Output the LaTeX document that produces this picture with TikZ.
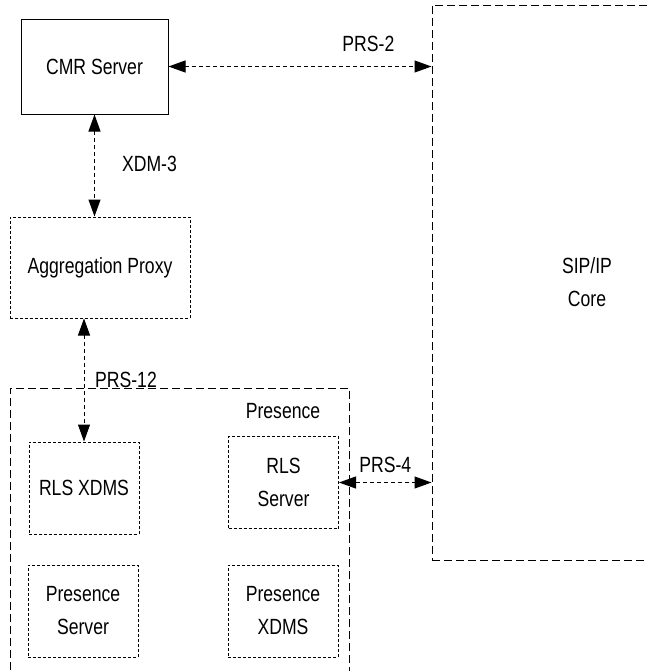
\documentclass[tikz,border=0pt]{standalone}
\usepackage{fontspec}
\setmainfont{Liberation Sans}[FakeStretch=0.8]
\usetikzlibrary{arrows.meta,positioning}

\begin{document}
\begin{tikzpicture}[x=0.5pt,y=-0.5pt,>={Triangle[length=8.5pt,width=6pt]},
                    font=\fontsize{11}{16.5}\selectfont]
  \tikzstyle{box}=[draw,rectangle,line width=0.5pt,align=center,inner sep=0pt]
  \tikzstyle{solidbox}=[box,minimum width=73.5pt,minimum height=47.5pt]
  \tikzstyle{dotbox}=[box,dash pattern=on 1.5pt off 1pt,minimum width=55pt,minimum height=46pt]
  \tikzstyle{group}=[box,dash pattern=on 4pt off 2pt]
  \tikzstyle{link}=[<->,line width=0.5pt,dash pattern=on 2pt off 1.5pt]

  \useasboundingbox (0,0) rectangle (648,671);

  \node[solidbox] (cmr)                  at (94.5,66.5)  {CMR Server};
  \node[dotbox,minimum width=90pt,minimum height=50.5pt] (agg) at (100,267.5) {Aggregation Proxy};
  \node[group,minimum width=155pt,minimum height=277.5pt] (sip) at (587,282.5) {SIP/IP\\Core};

  \node[group,minimum width=169.5pt,minimum height=166pt] (pres) at (179.5,554) {};
  \node (preslabel) at (283,411) {Presence};

  \node[dotbox] (rlsx)                   at (84,488)     {RLS XDMS};
  \node[dotbox] (rlss)                   at (283.5,482.5) {RLS\\Server};
  \node[dotbox] (press)                  at (83,611)     {Presence\\Server};
  \node[dotbox] (presx)                  at (283,611)    {Presence\\XDMS};

  \path[link]
(cmr.east)  edge node[pos=0.76,yshift=11.5pt] {PRS-2}  (cmr.east -| sip.west)
(cmr.south) edge node[pos=0.48,xshift=27.5pt] {XDM-3}  (cmr.south |- agg.north)
(agg.south -| rlsx.north) edge node[pos=0.5,xshift=21pt] {PRS-12} (rlsx.north)
(rlss.east) edge node[pos=0.5,yshift=9pt] {PRS-4}      (rlss.east -| sip.west);

\end{tikzpicture}
\end{document}
